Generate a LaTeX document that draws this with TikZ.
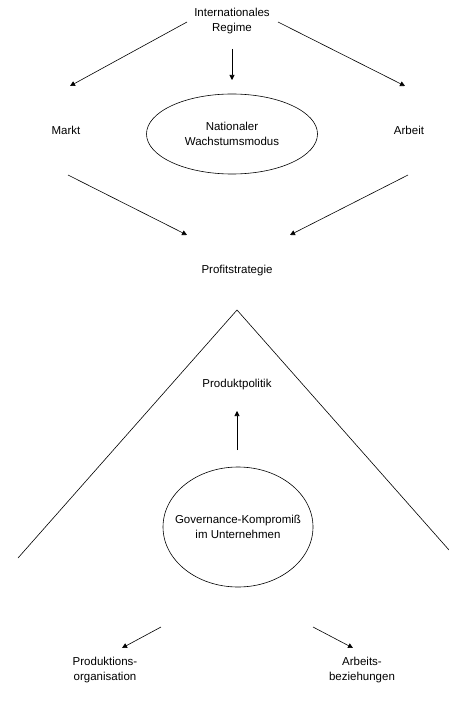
\documentclass[tikz,border=0pt]{standalone}
\usepackage{fontspec}
\setmainfont{Liberation Sans}
\usetikzlibrary{positioning,shapes.geometric,arrows.meta}

\tikzset{
  every label text/.style={align=center, inner sep=0pt, font=\fontsize{11.5}{15}\selectfont},
  every oval/.style={draw, ellipse, line width=0.6pt, inner sep=0pt, align=center,
    font=\fontsize{11.5}{15}\selectfont},
}

\begin{document}
\begin{tikzpicture}[x=1pt, y=-1pt, line width=0.6pt, >={Triangle[length=5pt,width=5pt]}]

\useasboundingbox (0,0) rectangle (449,727);

% upper part
\node [every label text] (regime) at (232,21) {Internationales\\Regime};
\node [every label text] (markt) at (66,130) {Markt};
\node [every label text] (arbeit) at (409,130) {Arbeit};
\node [every oval, minimum width=171, minimum height=80] (wachstum) at (232,134) {Nationaler\\Wachstumsmodus};
\node [every label text] (profit) at (237,271) {Profitstrategie};

\coordinate (regime-l) at (187,22);
\coordinate (regime-r) at (278,22);
\coordinate (regime-d) at (232,49);
\coordinate (markt-in) at (70,86);
\coordinate (arbeit-in) at (405,86);
\coordinate (wachstum-in) at (232,80);
\coordinate (markt-out) at (68,175);
\coordinate (arbeit-out) at (408,175);
\coordinate (profit-l) at (187,235);
\coordinate (profit-r) at (290,235);

\draw [->] (regime-l) -- (markt-in);
\draw [->] (regime-r) -- (arbeit-in);
\draw [->] (regime-d) -- (wachstum-in);
\draw [->] (markt-out) -- (profit-l);
\draw [->] (arbeit-out) -- (profit-r);

% lower part
\coordinate (apex) at (237,310);
\coordinate (base-l) at (18,558);
\coordinate (base-r) at (449,550);
\draw (base-l) -- (apex) -- (base-r);

\node [every label text] (produkt) at (237,385) {Produktpolitik};
\node [every oval, inner xsep=-12pt, minimum width=150, minimum height=120] (governance) at (238,527) {Governance-Kompromiß\\im Unternehmen};
\node [every label text] (organisation) at (105,670) {Produktions-\\organisation};
\node [every label text] (beziehungen) at (362,670) {Arbeits-\\beziehungen};

\coordinate (gov-up) at (237,450);
\coordinate (produkt-in) at (237,411);
\coordinate (gov-l) at (161,627);
\coordinate (gov-r) at (313,627);
\coordinate (organisation-in) at (122,648);
\coordinate (beziehungen-in) at (353,648);

\draw [->] (gov-up) -- (produkt-in);
\draw [->] (gov-l) -- (organisation-in);
\draw [->] (gov-r) -- (beziehungen-in);

\end{tikzpicture}
\end{document}
